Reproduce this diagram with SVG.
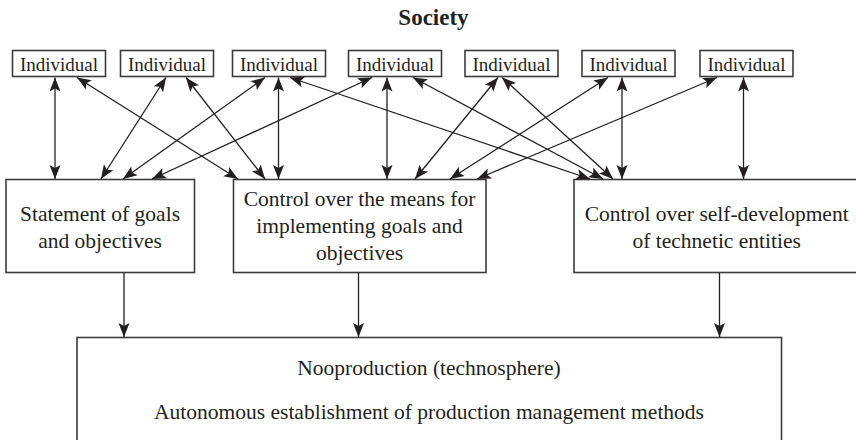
<svg xmlns="http://www.w3.org/2000/svg" width="856" height="440" viewBox="0 0 856 440">
  <style>
    .box { fill: #ffffff; stroke: #3c3c3c; stroke-width: 1.6; }
    .lbl { fill: #231f20; text-anchor: middle; }
    .ind { font-size: 19px; }
    .main { font-size: 21.5px; }
    .title { font-size: 23px; font-weight: bold; }
    .link { fill: none; stroke: #231f20; stroke-width: 1.3; }
    .both { marker-start: url(#head); marker-end: url(#head); }
    .one { marker-end: url(#head); }
  </style>
  <defs>
    <marker id="head" markerUnits="userSpaceOnUse" markerWidth="18" markerHeight="14"
            viewBox="-15 -7 17 14" refX="0" refY="0" orient="auto-start-reverse">
      <path d="M0,0 L-14,-5.5 L-11,0 L-14,5.5 Z" fill="#231f20"/>
    </marker>
  </defs>

  <rect width="856" height="440" fill="#ffffff"/>

  <g font-family="Liberation Serif, Times New Roman, DejaVu Serif, serif">
  <text class="lbl title" x="433.5" y="25">Society</text>

  <!-- individuals -->
  <g id="individual-1"><rect class="box" x="12.5" y="50.5" width="93" height="26"/><text class="lbl ind" x="59" y="70.5">Individual</text></g>
  <g id="individual-2"><rect class="box" x="120.5" y="50.5" width="93" height="26"/><text class="lbl ind" x="167" y="70.5">Individual</text></g>
  <g id="individual-3"><rect class="box" x="232.5" y="50.5" width="93" height="26"/><text class="lbl ind" x="279" y="70.5">Individual</text></g>
  <g id="individual-4"><rect class="box" x="348.5" y="50.5" width="93" height="26"/><text class="lbl ind" x="395" y="70.5">Individual</text></g>
  <g id="individual-5"><rect class="box" x="465" y="50.5" width="93" height="26"/><text class="lbl ind" x="511.5" y="70.5">Individual</text></g>
  <g id="individual-6"><rect class="box" x="582" y="50.5" width="93" height="26"/><text class="lbl ind" x="628.5" y="70.5">Individual</text></g>
  <g id="individual-7"><rect class="box" x="700" y="50.5" width="93" height="26"/><text class="lbl ind" x="746.5" y="70.5">Individual</text></g>

  <!-- control functions -->
  <g id="goals">
    <rect class="box" x="6" y="179.5" width="188.5" height="93"/>
    <text class="lbl main" x="100" y="220.5">Statement of goals</text>
    <text class="lbl main" x="100" y="247.5">and objectives</text>
  </g>
  <g id="means">
    <rect class="box" x="233.5" y="179.5" width="252.5" height="93"/>
    <text class="lbl main" x="359.5" y="206">Control over the means for</text>
    <text class="lbl main" x="359.5" y="233">implementing goals and</text>
    <text class="lbl main" x="359.5" y="260">objectives</text>
  </g>
  <g id="self-development">
    <rect class="box" x="574" y="179.5" width="286" height="93"/>
    <text class="lbl main" x="716.7" y="220.5">Control over self-development</text>
    <text class="lbl main" x="716.7" y="247.5">of technetic entities</text>
  </g>

  <!-- technosphere -->
  <g id="nooproduction">
    <rect class="box" x="77" y="337.5" width="704.5" height="110"/>
    <text class="lbl main" x="429" y="375">Nooproduction (technosphere)</text>
    <text class="lbl main" x="429" y="418.5">Autonomous establishment of production management methods</text>
  </g>
  </g>

  <!-- connectors -->
  <g id="connectors">
    <line class="link both" x1="55" y1="77.5" x2="55" y2="179"/>
    <line class="link both" x1="77" y1="77.5" x2="238" y2="179"/>
    <line class="link both" x1="166" y1="77.5" x2="101" y2="179"/>
    <line class="link both" x1="186" y1="77.5" x2="265" y2="179"/>
    <line class="link both" x1="265" y1="77.5" x2="123" y2="179"/>
    <line class="link both" x1="278.5" y1="77.5" x2="278.5" y2="179"/>
    <line class="link both" x1="290" y1="77.5" x2="590" y2="179"/>
    <line class="link both" x1="372" y1="77.5" x2="152" y2="179"/>
    <line class="link both" x1="387" y1="77.5" x2="387" y2="179"/>
    <line class="link both" x1="413" y1="77.5" x2="603" y2="179"/>
    <line class="link both" x1="498" y1="77.5" x2="415" y2="179"/>
    <line class="link both" x1="502" y1="77.5" x2="613" y2="179"/>
    <line class="link both" x1="608" y1="77.5" x2="450" y2="179"/>
    <line class="link both" x1="622" y1="77.5" x2="622" y2="179"/>
    <line class="link both" x1="717" y1="77.5" x2="477" y2="179"/>
    <line class="link both" x1="743.5" y1="77.5" x2="743.5" y2="179"/>

    <line class="link one" x1="124" y1="273" x2="124" y2="337"/>
    <line class="link one" x1="358.5" y1="273" x2="358.5" y2="337"/>
    <line class="link one" x1="719.5" y1="273" x2="719.5" y2="337"/>
  </g>
</svg>
